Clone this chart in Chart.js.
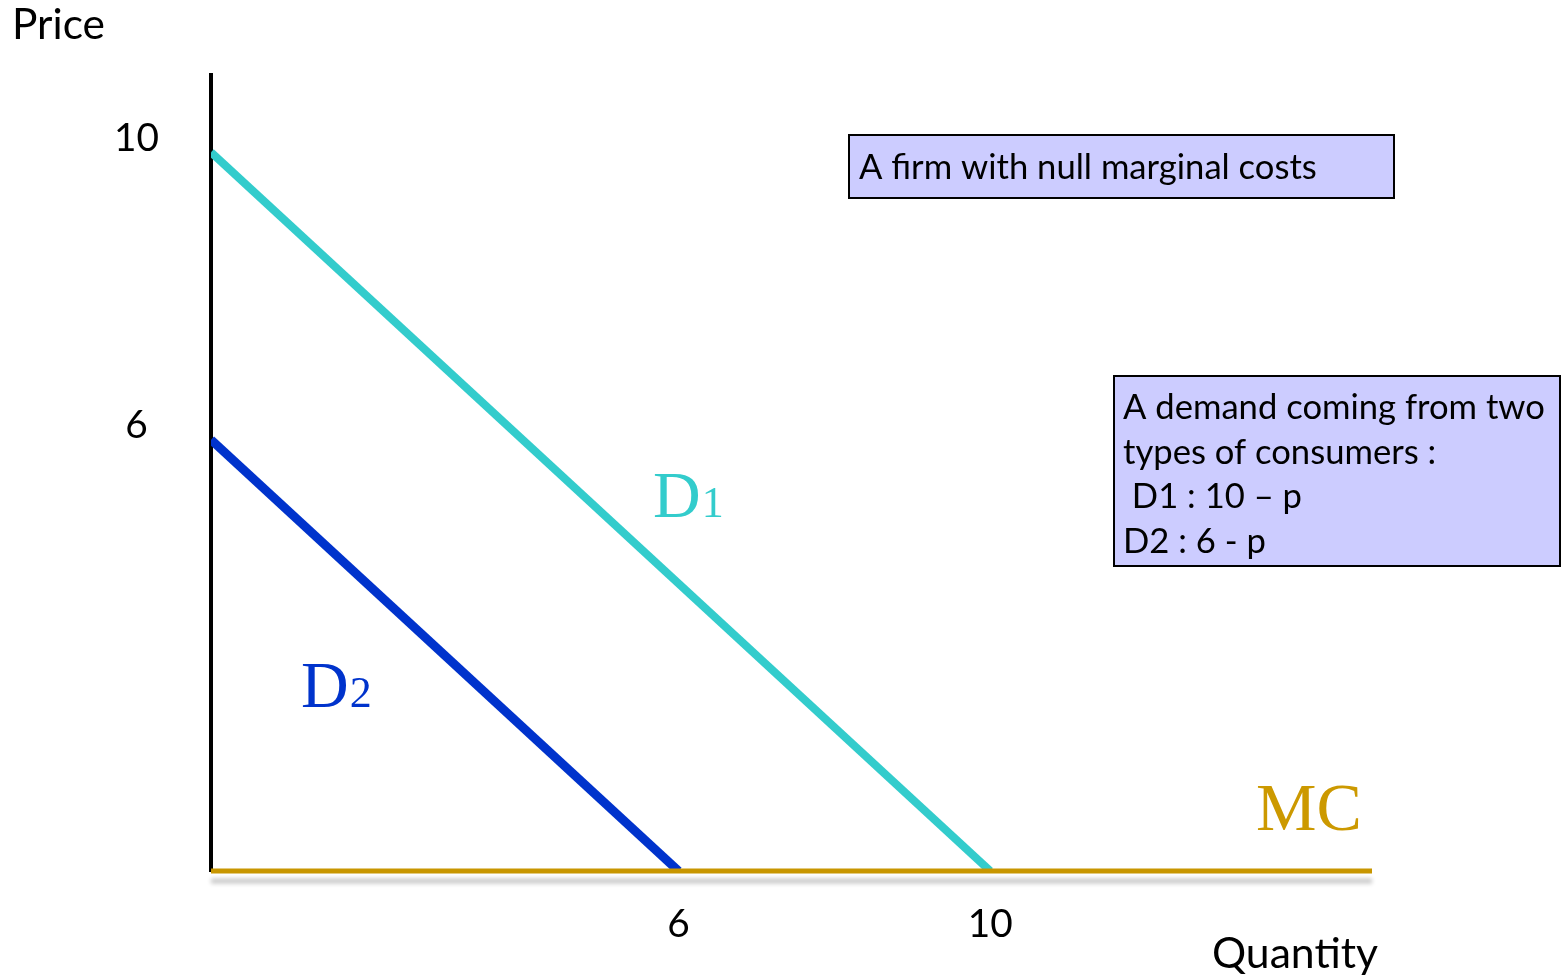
<!DOCTYPE html>
<html>
<head>
<meta charset="utf-8">
<title>Demand from two types of consumers</title>
<script src="https://cdn.jsdelivr.net/npm/chart.js@4.4.1/dist/chart.umd.min.js"></script>
<style>
  html, body { margin: 0; padding: 0; background: #ffffff; }
  #wrap { width: 1561px; height: 980px; position: relative; }
</style>
</head>
<body>
<div id="wrap"><canvas id="chart" width="1561" height="980"></canvas></div>
<script>
// Axis ranges and labelled ticks
const quantityMax = 14.9;
const priceMax = 11.07;
const quantityTicks = [6, 10];
const priceTicks = [6, 10];

// D1 : q = 10 - p
const d1Quantity = [0, 10];
const d1Price = [10, 0];

// D2 : q = 6 - p
const d2Quantity = [0, 6];
const d2Price = [6, 0];

// Null marginal cost
const mcQuantity = [0, 14.9];
const mcPrice = [0, 0];

const SANS = 'Lato, "Open Sans", sans-serif';
const SERIF = '"Liberation Serif", "DejaVu Serif", serif';

function toPoints(xs, ys) {
  return xs.map((x, i) => ({ x: x, y: ys[i] }));
}

// Font size that makes a string span the given width
const measureCtx = document.createElement('canvas').getContext('2d');
function fitSize(text, width, family) {
  measureCtx.font = '100px ' + family;
  return 100 * width / measureCtx.measureText(text).width;
}

const tickSize = fitSize('10', 45, SANS);

// Soft grey shadow under the marginal cost line
const mcShadow = {
  id: 'mcShadow',
  beforeDatasetDraw(chart, args) {
    if (args.index !== 0) return;
    const ctx = chart.ctx;
    ctx.save();
    ctx.shadowColor = 'rgba(0,0,0,0.22)';
    ctx.shadowOffsetY = 10;
    ctx.shadowBlur = 4;
  },
  afterDatasetDraw(chart, args) {
    if (args.index !== 0) return;
    chart.ctx.restore();
  }
};

// Axis titles, curve names and the two text boxes
const annotations = {
  id: 'annotations',
  afterDraw(chart) {
    const ctx = chart.ctx;
    ctx.save();
    ctx.textBaseline = 'alphabetic';
    ctx.textAlign = 'left';
    ctx.fillStyle = '#000000';

    ctx.font = fitSize('Price', 93, SANS).toFixed(2) + 'px ' + SANS;
    ctx.fillText('Price', 12, 39);

    ctx.font = fitSize('Quantity', 166, SANS).toFixed(2) + 'px ' + SANS;
    ctx.fillText('Quantity', 1212, 968);

    // Box: a firm with null marginal costs
    ctx.fillStyle = '#ccccff';
    ctx.fillRect(849, 135, 545, 63);
    ctx.lineWidth = 2;
    ctx.strokeStyle = '#000000';
    ctx.strokeRect(849, 135, 545, 63);
    ctx.fillStyle = '#000000';
    const t1 = 'A firm with null marginal costs';
    ctx.font = fitSize(t1, 458, SANS).toFixed(2) + 'px ' + SANS;
    ctx.fillText(t1, 859, 179);

    // Box: the two demands
    ctx.fillStyle = '#ccccff';
    ctx.fillRect(1114, 376, 446, 190);
    ctx.strokeRect(1114, 376, 446, 190);
    ctx.fillStyle = '#000000';
    const lines = ['A demand coming from two', 'types of consumers :', ' D1 : 10 \u2013 p', 'D2 : 6 - p'];
    ctx.font = fitSize(lines[0], 422, SANS).toFixed(2) + 'px ' + SANS;
    const baselines = [419, 464, 508, 553];
    lines.forEach((s, i) => ctx.fillText(s, 1123, baselines[i]));

    // Curve names
    function label(main, sub, x, y, color, size) {
      ctx.fillStyle = color;
      ctx.font = size + 'px ' + SERIF;
      ctx.fillText(main, x, y);
      const w = ctx.measureText(main).width;
      if (sub) {
        ctx.font = Math.round(size * 0.66) + 'px ' + SERIF;
        ctx.fillText(sub, x + w + 1, y);
      }
    }
    label('D', '1', 653, 517, '#33cccc', 66);
    label('D', '2', 301, 707, '#0033cc', 66);
    label('MC', '', 1256, 830, '#cc9900', 68);

    ctx.restore();
  }
};

new Chart(document.getElementById('chart'), {
  type: 'line',
  data: {
    datasets: [
      {
        label: 'MC',
        data: toPoints(mcQuantity, mcPrice),
        borderColor: '#c89600',
        borderWidth: 5,
        pointRadius: 0,
        clip: false,
        order: 0
      },
      {
        label: 'D1',
        data: toPoints(d1Quantity, d1Price),
        borderColor: '#33cccc',
        borderWidth: 8,
        pointRadius: 0,
        order: 1
      },
      {
        label: 'D2',
        data: toPoints(d2Quantity, d2Price),
        borderColor: '#0033cc',
        borderWidth: 9,
        pointRadius: 0,
        order: 2
      }
    ]
  },
  options: {
    responsive: false,
    animation: false,
    devicePixelRatio: 1,
    layout: { padding: { left: 0, top: 75, right: 189, bottom: 0 } },
    plugins: { legend: { display: false }, tooltip: { enabled: false } },
    scales: {
      x: {
        type: 'linear',
        min: 0,
        max: quantityMax,
        grid: { display: false, drawTicks: false },
        border: { display: false },
        afterBuildTicks(scale) { scale.ticks = quantityTicks.map(v => ({ value: v })); },
        afterFit(scale) { scale.height = 980 - 871; },
        ticks: {
          color: '#000000',
          font: { family: SANS, size: tickSize },
          padding: 30,
          maxRotation: 0,
          autoSkip: false
        }
      },
      y: {
        type: 'linear',
        min: 0,
        max: priceMax,
        grid: { display: false, drawTicks: false },
        border: { display: true, color: '#000000', width: 4 },
        afterBuildTicks(scale) { scale.ticks = priceTicks.map(v => ({ value: v })); },
        afterFit(scale) { scale.width = 211; },
        ticks: {
          color: '#000000',
          font: { family: SANS, size: tickSize },
          padding: 52,
          labelOffset: -14,
          crossAlign: 'center',
          autoSkip: false
        }
      }
    }
  },
  plugins: [mcShadow, annotations]
});
</script>
</body>
</html>
